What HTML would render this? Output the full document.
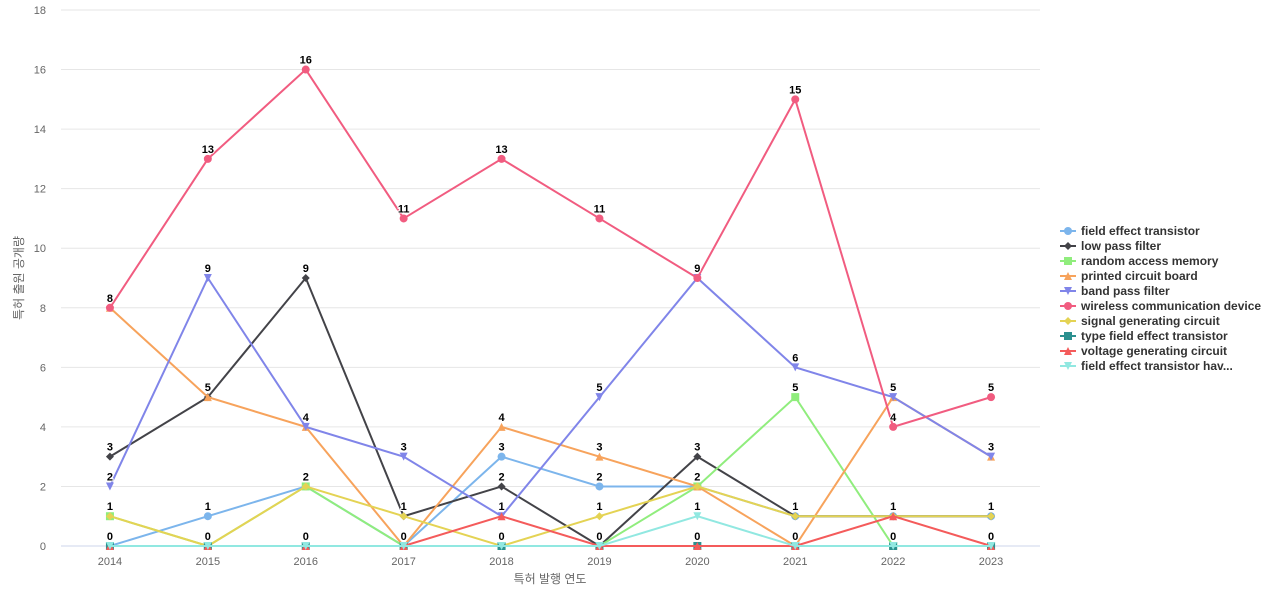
<!DOCTYPE html>
<html><head><meta charset="utf-8"><style>
body{margin:0;background:#fff;font-family:"Liberation Sans","Noto Sans CJK KR",sans-serif}
svg text{font-family:"Liberation Sans","Noto Sans CJK KR",sans-serif}
</style></head><body>
<svg id="c" width="1280" height="600"></svg>
<script>
const categories=["2014","2015","2016","2017","2018","2019","2020","2021","2022","2023"];
const yTicks=[0,2,4,6,8,10,12,14,16,18];
const seriesNames=["field effect transistor","low pass filter","random access memory","printed circuit board","band pass filter","wireless communication device","signal generating circuit","type field effect transistor","voltage generating circuit","field effect transistor hav..."];
const sFET=[0,1,2,0,3,2,2,1,1,1];
const sLPF=[3,5,9,1,2,0,3,1,1,1];
const sRAM=[1,0,2,0,0,0,2,5,0,0];
const sPCB=[8,5,4,0,4,3,2,0,5,3];
const sBPF=[2,9,4,3,1,5,9,6,5,3];
const sWCD=[8,13,16,11,13,11,9,15,4,5];
const sSGC=[1,0,2,1,0,1,2,1,1,1];
const sTFET=[0,0,0,0,0,0,0,0,0,0];
const sVGC=[0,0,0,0,1,0,0,0,1,0];
const sFETH=[0,0,0,0,0,0,1,0,0,0];
const seriesData=[sFET,sLPF,sRAM,sPCB,sBPF,sWCD,sSGC,sTFET,sVGC,sFETH];
const colors=["#7cb5ec","#434348","#90ed7d","#f7a35c","#8085e9","#f15c80","#e4d354","#2b908f","#f45b5b","#91e8e1"];
const symbols=["circle","diamond","square","triangle","tridown","circle","diamond","square","triangle","tridown"];
const NS="http://www.w3.org/2000/svg";
const svg=document.getElementById('c');
const L=61,R=1040,T=10,B=546,yMax=18;
const bw=(R-L)/categories.length;
function x(i){return L+bw*(i+0.5);}
function y(v){return B-(B-T)*v/yMax;}
function mk(t,a,p){const e=document.createElementNS(NS,t);for(const k in a)e.setAttribute(k,a[k]);(p||svg).appendChild(e);return e;}
function marker(sym,cx,cy,col,g){
  let e;
  if(sym==="circle")e=mk('circle',{cx:cx,cy:cy,r:4,fill:col},g);
  else if(sym==="square")e=mk('rect',{x:cx-4,y:cy-4,width:8,height:8,fill:col},g);
  else if(sym==="diamond")e=mk('path',{d:`M${cx} ${cy-4}L${cx+4} ${cy}L${cx} ${cy+4}L${cx-4} ${cy}Z`,fill:col},g);
  else if(sym==="triangle")e=mk('path',{d:`M${cx} ${cy-4}L${cx+4} ${cy+4}L${cx-4} ${cy+4}Z`,fill:col},g);
  else e=mk('path',{d:`M${cx-4} ${cy-4}L${cx+4} ${cy-4}L${cx} ${cy+4}Z`,fill:col},g);
  return e;
}
yTicks.forEach(v=>{
  const l=mk('line',{x1:L,x2:R,y1:y(v),y2:y(v),stroke:v===0?'#ccd6eb':'#e6e6e6','stroke-width':1});
  
  
  const t=mk('text',{x:46,y:y(v)+4,'text-anchor':'end','font-size':11,fill:'#666'});
  t.textContent=v;
  
  
});
categories.forEach((c,i)=>{
  const t=mk('text',{x:x(i),y:565,'text-anchor':'middle','font-size':11,fill:'#666'});
  t.textContent=c;
  
  
});
const xt=mk('text',{x:550,y:583,'text-anchor':'middle','font-size':12,fill:'#666'});xt.textContent='특허 발행 연도';

const yt=mk('text',{x:0,y:0,'text-anchor':'middle','font-size':12,fill:'#666',transform:'translate(23,278) rotate(-90)'});yt.textContent='특허 출원 공개량';

seriesData.forEach((d,s)=>{
  const g=mk('g',{});
  
  
  mk('path',{d:d.map((v,i)=>(i?'L':'M')+x(i)+' '+y(v)).join(''),fill:'none',stroke:colors[s],'stroke-width':2},g);
  d.forEach((v,i)=>{
    const m=marker(symbols[s],x(i),y(v),colors[s],g);
    
    
  });
});
seriesData.forEach((d,s)=>{
  d.forEach((v,i)=>{
    const t=mk('text',{x:x(i),y:y(v)-6,'text-anchor':'middle','font-size':11,'font-weight':'bold',fill:'#000',stroke:'#fff','stroke-width':2,'paint-order':'stroke'});
    t.textContent=v;
    
    
  });
});
seriesNames.forEach((n,s)=>{
  const g=mk('g',{});
  
  
  const cy=231+15*s;
  mk('line',{x1:1060,x2:1076,y1:cy,y2:cy,stroke:colors[s],'stroke-width':2},g);
  marker(symbols[s],1068,cy,colors[s],g);
  const t=mk('text',{x:1081,y:cy+4,'font-size':12,'font-weight':'bold',fill:'#333'},g);
  t.textContent=n;
});
</script>
</body></html>
